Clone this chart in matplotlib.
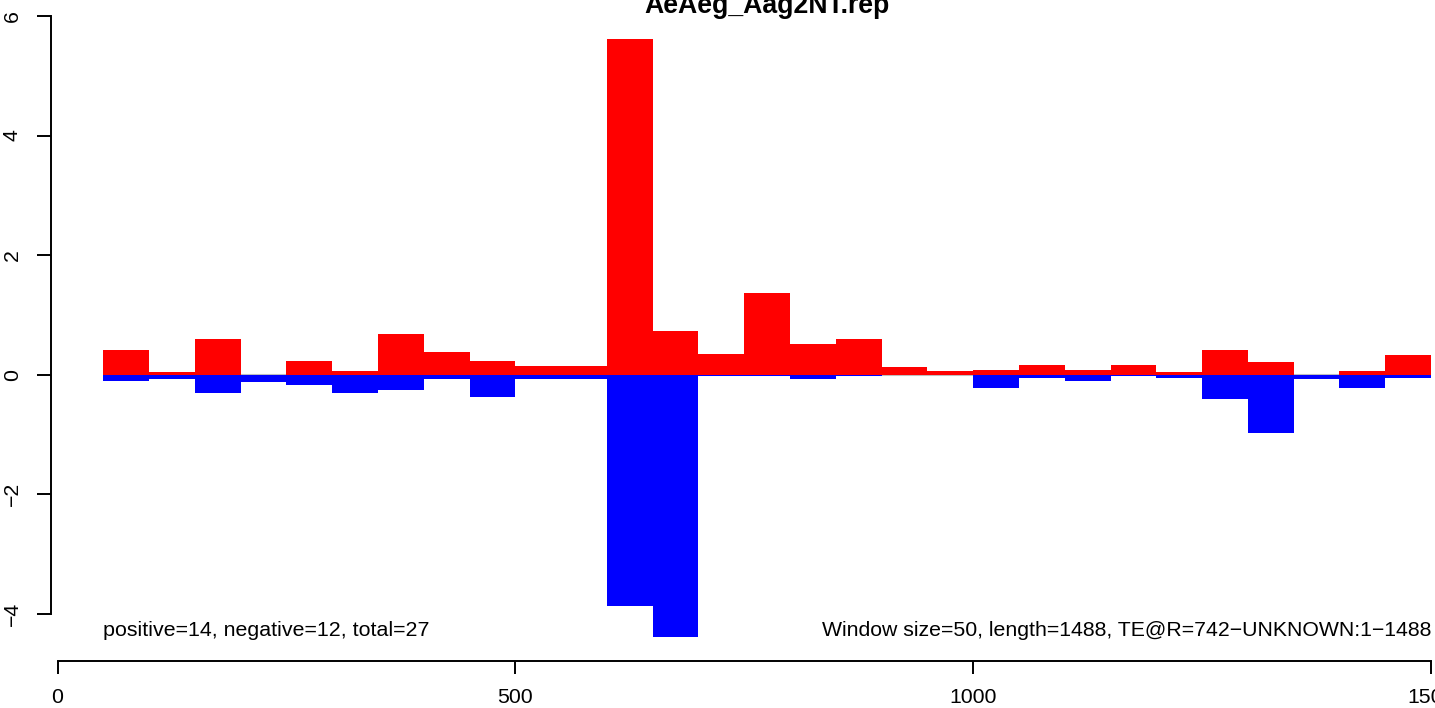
import numpy as np
import matplotlib
matplotlib.use("Agg")
import matplotlib.pyplot as plt

plt.rcParams['font.family'] = ['Liberation Sans', 'DejaVu Sans']

# okna po 50 pz, od 50 do 1500
win = 50
starts = list(range(50, 1500, 50))

# wartosci dodatnie (czerwone)
pos = [0.41, 0.04, 0.60, 0.00, 0.23, 0.07, 0.68, 0.38, 0.23, 0.15,
       0.15, 5.61, 0.73, 0.35, 1.37, 0.52, 0.60, 0.13, 0.06, 0.08,
       0.17, 0.08, 0.17, 0.04, 0.41, 0.22, 0.00, 0.07, 0.33]
# wartosci ujemne (niebieskie)
neg = [-0.11, -0.07, -0.30, -0.13, -0.17, -0.30, -0.25, -0.08, -0.38, -0.08,
       -0.08, -3.87, -4.38, -0.03, -0.03, -0.07, -0.03, 0.00, 0.00, -0.22,
       -0.05, -0.11, -0.03, -0.06, -0.41, -0.97, -0.08, -0.22, -0.05]

title = "AeAeg_Aag2NT.rep"
left_note = "positive=14, negative=12, total=27"
right_note = "Window size=50, length=1488, TE@R=742\u2212UNKNOWN:1\u22121488"

fig = plt.figure(figsize=(14.35, 7.08), dpi=100)
ax = fig.add_axes([50.7/1435, (708-660.7)/708, (1435-50.7)/1435, 660.7/708])

# linia zerowa
ax.hlines(0, 50, 1500, color='#BEBEBE', lw=1.5, zorder=1)
ax.bar(starts, pos, width=win, align='edge', color='#FF0000', lw=0, zorder=2)
ax.bar(starts, neg, width=win, align='edge', color='#0000FF', lw=0, zorder=2)

ax.set_xlim(-7.43, 1504.3)
ax.set_ylim(-4.783, 6.266)

for s in ['top', 'right']:
    ax.spines[s].set_visible(False)
ax.spines['left'].set_bounds(-4, 6)
ax.spines['bottom'].set_bounds(0, 1500)
for s in ['left', 'bottom']:
    ax.spines[s].set_linewidth(1.4)

ax.set_xticks([0, 500, 1000, 1500])
ax.set_xticklabels(['0', '500', '1000', '1500'])
ax.set_yticks([-4, -2, 0, 2, 4, 6])
ax.set_yticklabels(['\u22124', '\u22122', '0', '2', '4', '6'], rotation=90, va='center')
ax.tick_params(axis='x', direction='out', length=9, width=1.4, pad=11, labelsize=15.3)
ax.tick_params(axis='y', direction='out', length=9.8, width=1.4, pad=11, labelsize=15.3)

ax.text(50, -4.27, left_note, ha='left', va='center', fontsize=15.4)
ax.text(1500, -4.27, right_note, ha='right', va='center', fontsize=15.3)

fig.text(767/1435, 1 - 13/708, title, ha='center', va='baseline',
         fontsize=19.2, fontweight='bold')

fig.savefig('out.png', dpi=100)
